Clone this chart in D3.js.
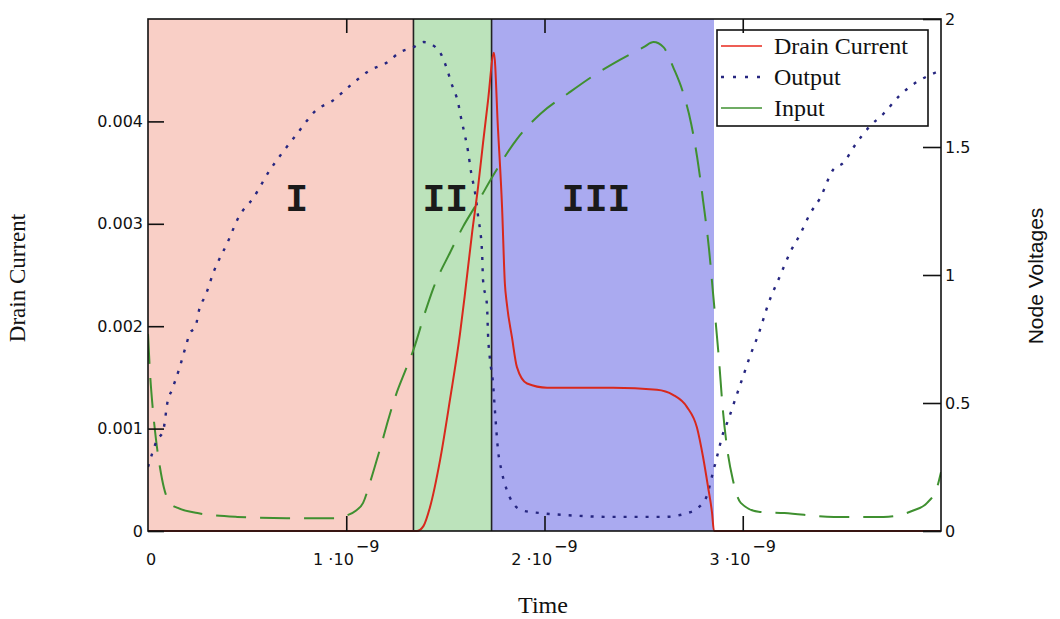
<!DOCTYPE html>
<html>
<head>
<meta charset="utf-8">
<script src="https://cdn.jsdelivr.net/npm/d3@7"></script>
<style>
  html, body { margin: 0; padding: 0; background: #fff; }
  svg { display: block; }
</style>
</head>
<body>
<svg id="chart" width="1060" height="619"></svg>
<script>
// ---- Data (time in ns, current in A, voltages in V) ----
const drainT = [0, 1.357, 1.39, 1.422, 1.473, 1.523, 1.574, 1.599, 1.634, 1.665, 1.69, 1.715, 1.745,
                1.765, 1.786, 1.80, 1.81, 1.836, 1.861, 1.912, 2.013, 2.346, 2.567, 2.648, 2.719,
                2.769, 2.80, 2.825, 2.845, 2.855, 4.0];
const drainI = [0, 0, 0.00005, 0.00023, 0.00069, 0.00128, 0.00193, 0.00232, 0.0029, 0.00336, 0.00379, 0.0042, 0.00467,
                0.00394, 0.00316, 0.00242, 0.00222, 0.00189, 0.0016, 0.00144, 0.0014, 0.0014, 0.00138, 0.00133, 0.00121,
                0.00101, 0.00072, 0.00043, 0.00018, 0, 0];

const outT = [0, 0.02, 0.045, 0.076, 0.10, 0.12, 0.16, 0.19, 0.21, 0.24, 0.26, 0.29, 0.33, 0.40, 0.46, 0.53,
              0.615, 0.68, 0.75, 0.85, 0.93, 1.02, 1.12, 1.205, 1.27, 1.34, 1.39, 1.45, 1.48, 1.51, 1.53,
              1.565, 1.58, 1.60, 1.615, 1.63, 1.65, 1.665, 1.685, 1.69, 1.71, 1.715, 1.725, 1.74, 1.75,
              1.765, 1.785, 1.81, 1.84, 1.89, 1.98, 2.11, 2.35, 2.60, 2.72, 2.78, 2.82, 2.85, 2.875,
              2.90, 2.925, 2.96, 3.00, 3.04, 3.08, 3.13, 3.19, 3.24, 3.29, 3.34, 3.39, 3.455, 3.51,
              3.56, 3.64, 3.71, 3.79, 3.88, 3.97, 4.0];
const outV = [0.25, 0.30, 0.355, 0.39, 0.51, 0.55, 0.64, 0.72, 0.77, 0.80, 0.87, 0.92, 1.01, 1.125, 1.23, 1.30,
              1.41, 1.48, 1.55, 1.645, 1.68, 1.74, 1.80, 1.83, 1.87, 1.89, 1.91, 1.89, 1.86, 1.80, 1.75,
              1.67, 1.61, 1.54, 1.48, 1.40, 1.32, 1.23, 1.09, 0.98, 0.88, 0.77, 0.67, 0.58, 0.47,
              0.32, 0.23, 0.16, 0.11, 0.08, 0.07, 0.062, 0.055, 0.055, 0.07, 0.094, 0.14, 0.23, 0.305,
              0.38, 0.43, 0.51, 0.60, 0.69, 0.77, 0.89, 1.00, 1.09, 1.16, 1.24, 1.30, 1.41, 1.44,
              1.50, 1.58, 1.63, 1.70, 1.755, 1.79, 1.80];

const inT = [0, 0.01, 0.025, 0.04, 0.06, 0.08, 0.11, 0.15, 0.25, 0.45, 0.70, 0.95, 1.00, 1.05, 1.085, 1.12,
             1.155, 1.185, 1.21, 1.25, 1.30, 1.34, 1.40, 1.44, 1.525, 1.59, 1.66, 1.75, 1.86, 1.98, 2.12,
             2.25, 2.38, 2.50, 2.55, 2.60, 2.65, 2.70, 2.74, 2.77, 2.80, 2.83, 2.85, 2.88, 2.90, 2.92,
             2.95, 2.99, 3.08, 3.21, 3.46, 3.71, 3.86, 3.93, 3.98, 4.0];
const inV = [0.77, 0.62, 0.47, 0.36, 0.25, 0.17, 0.11, 0.09, 0.07, 0.055, 0.05, 0.05, 0.06, 0.08, 0.11, 0.19,
             0.28, 0.36, 0.43, 0.53, 0.63, 0.71, 0.86, 0.95, 1.09, 1.19, 1.28, 1.40, 1.53, 1.63, 1.71,
             1.78, 1.84, 1.89, 1.91, 1.89, 1.81, 1.71, 1.59, 1.46, 1.29, 1.10, 0.93, 0.67, 0.47, 0.33,
             0.20, 0.11, 0.075, 0.07, 0.055, 0.055, 0.08, 0.11, 0.17, 0.23];

// Operating regions (ns)
const regionNames = ["I", "II", "III"];
const regionStart = [0, 1.339, 1.733];
const regionEnd = [1.339, 1.733, 2.855];
const regionFill = ["#f9cfc6", "#bce3bb", "#aaaaf0"];
const regionLabelT = [0.75, 1.50, 2.26];
const regionLabelV = 1.29;

// Axis ticks
const currentTicks = [0, 0.001, 0.002, 0.003, 0.004];
const currentTickLabels = ["0", "0.001", "0.002", "0.003", "0.004"];
const voltTicks = [0, 0.5, 1, 1.5, 2];
const voltTickLabels = ["0", "0.5", "1", "1.5", "2"];
const timeTicks = [0, 1e-9, 2e-9, 3e-9];
const timeTickMantissa = ["0", "1", "2", "3"];

const legendNames = ["Drain Current", "Output", "Input"];

// ---- Scales ----
const svg = d3.select("#chart");
const L = 148, R = 941, T = 19, B = 531;
const x = d3.scaleLinear().domain([0, 4e-9]).range([L, R]);
const yI = d3.scaleLinear().domain([0, 0.005]).range([B, T]);
const yV = d3.scaleLinear().domain([0, 2]).range([B, T]);
const ns = 1e-9;

svg.append("defs").append("clipPath").attr("id", "plotClip")
  .append("rect").attr("x", L).attr("y", T - 2).attr("width", R - L).attr("height", B - T + 4);

// Region shading
const regions = regionNames.map((n, i) => ({ name: n, s: regionStart[i] * ns, e: regionEnd[i] * ns, fill: regionFill[i], lt: regionLabelT[i] * ns }));
svg.append("g").selectAll("rect").data(regions).join("rect")
  .attr("x", d => x(d.s)).attr("y", T)
  .attr("width", d => x(d.e) - x(d.s)).attr("height", B - T)
  .attr("fill", d => d.fill);

// Region boundaries (between I/II and II/III)
svg.append("g").selectAll("line").data(regions.slice(1)).join("line")
  .attr("x1", d => x(d.s)).attr("x2", d => x(d.s))
  .attr("y1", T).attr("y2", B)
  .attr("stroke", "#222").attr("stroke-width", 1.6);

// Region labels
svg.append("g").selectAll("text").data(regions).join("text")
  .attr("x", d => x(d.lt)).attr("y", yV(regionLabelV))
  .attr("text-anchor", "middle").attr("dominant-baseline", "central")
  .attr("font-family", "Liberation Mono, Courier New, monospace")
  .attr("font-weight", "bold").attr("font-size", 38)
  .attr("fill", "#1a1a1a")
  .text(d => d.name);

// Legend box (no fill, the output trace shows through it)
const leg = svg.append("g");
leg.append("rect").attr("x", 717).attr("y", 30).attr("width", 211).attr("height", 96)
  .attr("fill", "none").attr("stroke", "#111").attr("stroke-width", 1.6);
const legStyles = [
  { stroke: "#e8281c", dash: null, width: 1.6 },
  { stroke: "#262680", dash: "3,9", width: 2.4 },
  { stroke: "#3f9030", dash: null, width: 1.6 }
];
legendNames.forEach((name, i) => {
  const cy = 46 + i * 31;
  const st = legStyles[i];
  leg.append("line").attr("x1", 721).attr("x2", 762).attr("y1", cy).attr("y2", cy)
    .attr("stroke", st.stroke).attr("stroke-width", st.width)
    .attr("stroke-dasharray", st.dash);
  leg.append("text").attr("x", 774).attr("y", cy + 8)
    .attr("font-family", "Liberation Serif, Times New Roman, serif").attr("font-size", 24)
    .attr("fill", "#111").text(name);
});

// Traces
const plot = svg.append("g").attr("clip-path", "url(#plotClip)");
const lineI = d3.line().x(d => x(d[0] * ns)).y(d => yI(d[1])).curve(d3.curveMonotoneX);
const lineV = d3.line().x(d => x(d[0] * ns)).y(d => yV(d[1])).curve(d3.curveMonotoneX);

plot.append("path").datum(d3.zip(inT, inV)).attr("d", lineV)
  .attr("fill", "none").attr("stroke", "#3f9030").attr("stroke-width", 2)
  .attr("stroke-dasharray", "30,14");
plot.append("path").datum(d3.zip(outT, outV)).attr("d", lineV)
  .attr("fill", "none").attr("stroke", "#262680").attr("stroke-width", 2.4)
  .attr("stroke-dasharray", "3,8");

// Frame
svg.append("rect").attr("x", L).attr("y", T).attr("width", R - L).attr("height", B - T)
  .attr("fill", "none").attr("stroke", "#111").attr("stroke-width", 1.6);

plot.append("path").datum(d3.zip(drainT, drainI)).attr("d", lineI)
  .attr("fill", "none").attr("stroke", "#d8281c").attr("stroke-width", 2);

// Axes with inward ticks
const tickFont = "DejaVu Sans, Verdana, sans-serif";
const axL = svg.append("g").attr("transform", `translate(${L},0)`)
  .call(d3.axisLeft(yI).tickValues(currentTicks).tickSize(-16).tickPadding(5)
    .tickFormat((d, i) => currentTickLabels[i]));
const axR = svg.append("g").attr("transform", `translate(${R},0)`)
  .call(d3.axisRight(yV).tickValues(voltTicks).tickSize(-18).tickPadding(4)
    .tickFormat((d, i) => voltTickLabels[i]));
const axB = svg.append("g").attr("transform", `translate(0,${B})`)
  .call(d3.axisBottom(x).tickValues(timeTicks.slice(1)).tickSize(-15).tickFormat(""));
const axT = svg.append("g").attr("transform", `translate(0,${T})`)
  .call(d3.axisTop(x).tickValues(timeTicks.slice(1)).tickSize(-14).tickFormat(""));

[axL, axR, axB, axT].forEach(a => {
  a.select(".domain").remove();
  a.selectAll(".tick line").attr("stroke", "#111").attr("stroke-width", 1.6);
  a.selectAll(".tick text").attr("font-family", tickFont).attr("font-size", 16).attr("fill", "#111");
});

// Time tick labels in Mathcad style: n·10^-9
const tl = svg.append("g").attr("font-family", tickFont).attr("font-size", 16).attr("fill", "#111");
timeTicks.forEach((v, i) => {
  const t = tl.append("text").attr("x", x(v) + (i === 0 ? 3 : 0)).attr("y", 565).attr("text-anchor", "middle");
  if (i === 0) { t.text(timeTickMantissa[i]); return; }
  t.append("tspan").text(timeTickMantissa[i] + " ·10");
  t.append("tspan").attr("dy", -13).attr("dx", 2).text("−9");
});

// Axis titles
const serif = "Liberation Serif, Times New Roman, serif";
svg.append("text").attr("transform", "translate(25,278) rotate(-90)")
  .attr("text-anchor", "middle").attr("font-family", serif).attr("font-size", 23).attr("fill", "#111")
  .text("Drain Current");
svg.append("text").attr("transform", "translate(1043,276) rotate(-90)")
  .attr("text-anchor", "middle").attr("font-family", "Liberation Sans, Arial, sans-serif").attr("font-size", 21).attr("fill", "#111")
  .text("Node Voltages");
svg.append("text").attr("x", 543).attr("y", 613)
  .attr("text-anchor", "middle").attr("font-family", serif).attr("font-size", 24).attr("fill", "#111")
  .text("Time");
</script>
</body>
</html>
